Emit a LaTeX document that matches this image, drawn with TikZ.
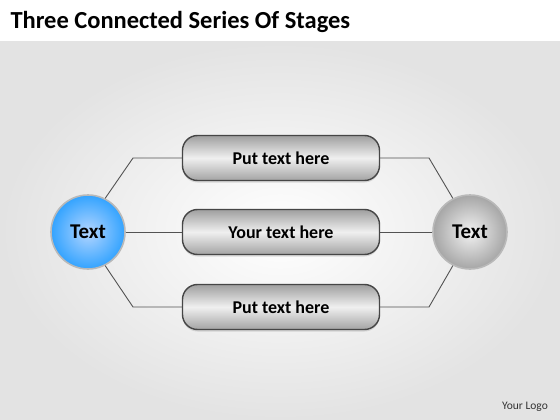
\documentclass[tikz,border=0pt]{standalone}
\usepackage{fontspec}
\setmainfont{Carlito}
\usetikzlibrary{shadows}

\tikzset{
  ball/.style={circle, minimum size=74pt, inner sep=0pt, draw=gray!55, line width=1.6pt,
    font=\fontsize{21}{24}\selectfont\bfseries},
  stage/.style={rectangle, rounded corners=15pt, minimum width=197pt,
    minimum height=45pt, inner sep=0pt, draw=gray!55!black, line width=1.4pt,
    top color=gray!75, bottom color=gray!72, middle color=gray!12,
    drop shadow={shadow xshift=0pt, shadow yshift=-2pt, opacity=0.25},
    font=\fontsize{18}{21}\selectfont\bfseries},
  link/.style={draw=gray!65!black, line width=0.9pt}
}

\begin{document}
\begin{tikzpicture}[x=1pt, y=-1pt]
      \useasboundingbox (0,0) rectangle (560,420);
      \fill[white] (0,0) rectangle (560,42);
      \shade[inner color=white, outer color=gray!22] (0,42) rectangle (560,420);
      \node[anchor=west, font=\fontsize{24.5}{28}\selectfont\bfseries] (title) at (7,22) {Three Connected Series Of Stages};
      \node[font=\fontsize{11.5}{13}\selectfont, text=black!80] (logo) at (525,407) {Your Logo};
      % end circles
      \node[ball, inner color=cyan!45!blue!30, outer color=cyan!55!blue!80] (lc) at (88,232) {Text};
      \node[ball, inner color=gray!10, outer color=gray!70] (rc) at (470,232) {Text};
      % stages
      \node[stage] (p1) at (281,158) {Put text here};
      \node[stage] (p2) at (281,232) {Your text here};
      \node[stage] (p3) at (281,307) {Put text here};
      % bends
      \coordinate (b1) at (133,158);
      \coordinate (b3) at (133,307);
      \coordinate (c1) at (429,158);
      \coordinate (c3) at (429,307);
      \foreach \source/\bend/\dest in {lc.63/b1/p1.west, lc.-63/b3/p3.west, rc.117/c1/p1.east, rc.-117/c3/p3.east}
        \path[link] (\source) -- (\bend) -- (\dest);
      \path[link] (lc.east) -- (p2.west);
      \path[link] (p2.east) -- (rc.west);
\end{tikzpicture}
\end{document}
